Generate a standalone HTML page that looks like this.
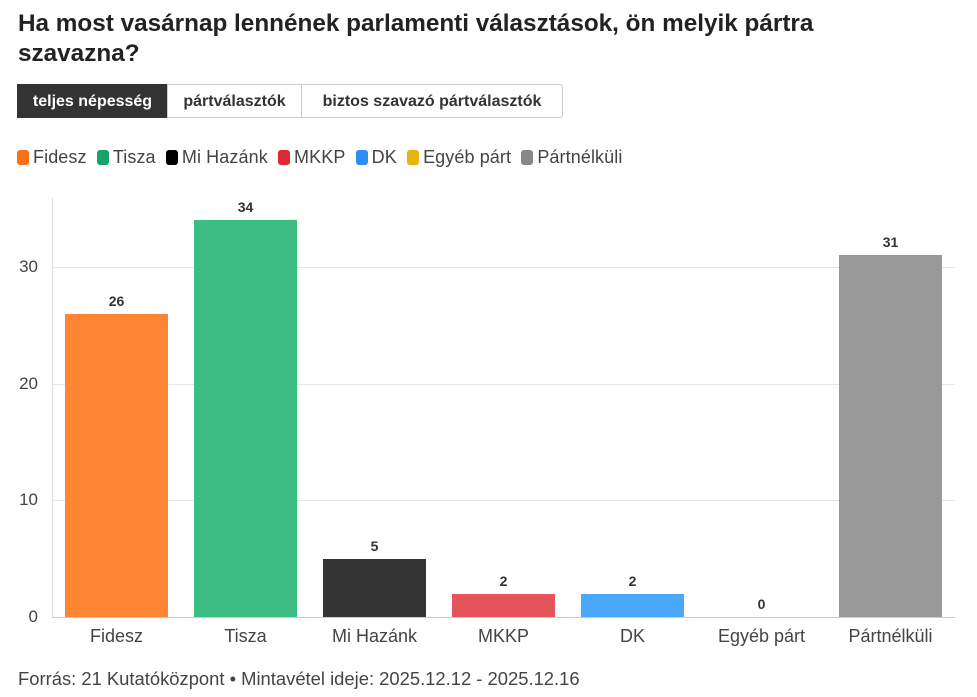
<!DOCTYPE html>
<html><head><meta charset="utf-8"><style>
body{margin:0;width:977px;height:697px;background:#fff;font-family:"Liberation Sans",sans-serif;color:#222;position:relative;overflow:hidden}
.a{position:absolute;white-space:nowrap}
.t{left:18px;top:9px;font-size:24.3px;font-weight:bold;line-height:30px;color:#222}
.btn{top:84px;height:34px;line-height:34px;font-size:16px;font-weight:bold;box-sizing:border-box;border:1px solid #ccc;text-align:center;color:#333}
.lg{top:147px;font-size:18px;color:#444;line-height:20px;letter-spacing:0.1px}
.sq{display:inline-block;width:12px;height:15px;border-radius:3px;vertical-align:-2px;margin-right:4px}
.yl{font-size:17px;color:#444;text-align:right;width:30px;left:8px}
.xl{font-size:18px;color:#444;text-align:center;width:129px;top:626px}
.v{font-size:14px;font-weight:bold;color:#333;text-align:center;width:103px}
</style></head><body>
<div class="a t">Ha most vasárnap lennének parlamenti választások, ön melyik pártra<br>szavazna?</div>
<div class="a btn" style="left:17px;width:151px;background:#333;color:#fff;border-color:#333">teljes népesség</div>
<div class="a btn" style="left:167px;width:135px">pártválasztók</div>
<div class="a btn" style="left:301px;width:262px;border-radius:0 3px 3px 0">biztos szavazó pártválasztók</div>
<div class="a lg" style="left:17px"><span class="sq" style="background:#f97316"></span>Fidesz&nbsp; <span class="sq" style="background:#16a36a"></span>Tisza&nbsp; <span class="sq" style="background:#000"></span>Mi Hazánk&nbsp; <span class="sq" style="background:#dc2a35"></span>MKKP&nbsp; <span class="sq" style="background:#2b8ff5"></span>DK&nbsp; <span class="sq" style="background:#eab308"></span>Egyéb párt&nbsp; <span class="sq" style="background:#888"></span>Pártnélküli</div>
<svg class="a" style="left:0;top:0" width="977" height="697">
<g stroke="#e6e6e6" stroke-width="1">
<line x1="52" y1="267.5" x2="955" y2="267.5"/><line x1="52" y1="384.5" x2="955" y2="384.5"/><line x1="52" y1="500.5" x2="955" y2="500.5"/>
</g>
<line x1="52.5" y1="198" x2="52.5" y2="617" stroke="#ddd"/>
<line x1="52" y1="617.5" x2="955" y2="617.5" stroke="#ccc"/>
<rect x="65" y="314" width="103" height="303" fill="#fd8533"/>
<rect x="194" y="220" width="103" height="397" fill="#3bbd83"/>
<rect x="323" y="559" width="103" height="58" fill="#333"/>
<rect x="452" y="594" width="103" height="23" fill="#e5535b"/>
<rect x="581" y="594" width="103" height="23" fill="#4aa8fb"/>
<rect x="839" y="255" width="103" height="362" fill="#999"/>
</svg>
<div class="a yl" style="top:257px">30</div>
<div class="a yl" style="top:374px">20</div>
<div class="a yl" style="top:490px">10</div>
<div class="a yl" style="top:607px">0</div>
<div class="a v" style="left:65px;top:293px">26</div>
<div class="a v" style="left:194px;top:199px">34</div>
<div class="a v" style="left:323px;top:538px">5</div>
<div class="a v" style="left:452px;top:573px">2</div>
<div class="a v" style="left:581px;top:573px">2</div>
<div class="a v" style="left:710px;top:596px">0</div>
<div class="a v" style="left:839px;top:234px">31</div>
<div class="a xl" style="left:52px">Fidesz</div>
<div class="a xl" style="left:181px">Tisza</div>
<div class="a xl" style="left:310px">Mi Hazánk</div>
<div class="a xl" style="left:439px">MKKP</div>
<div class="a xl" style="left:568px">DK</div>
<div class="a xl" style="left:697px">Egyéb párt</div>
<div class="a xl" style="left:826px">Pártnélküli</div>
<div class="a" style="left:18px;top:668px;font-size:18.4px;color:#444">Forrás: 21 Kutatóközpont • Mintavétel ideje: 2025.12.12 - 2025.12.16</div>
</body></html>
